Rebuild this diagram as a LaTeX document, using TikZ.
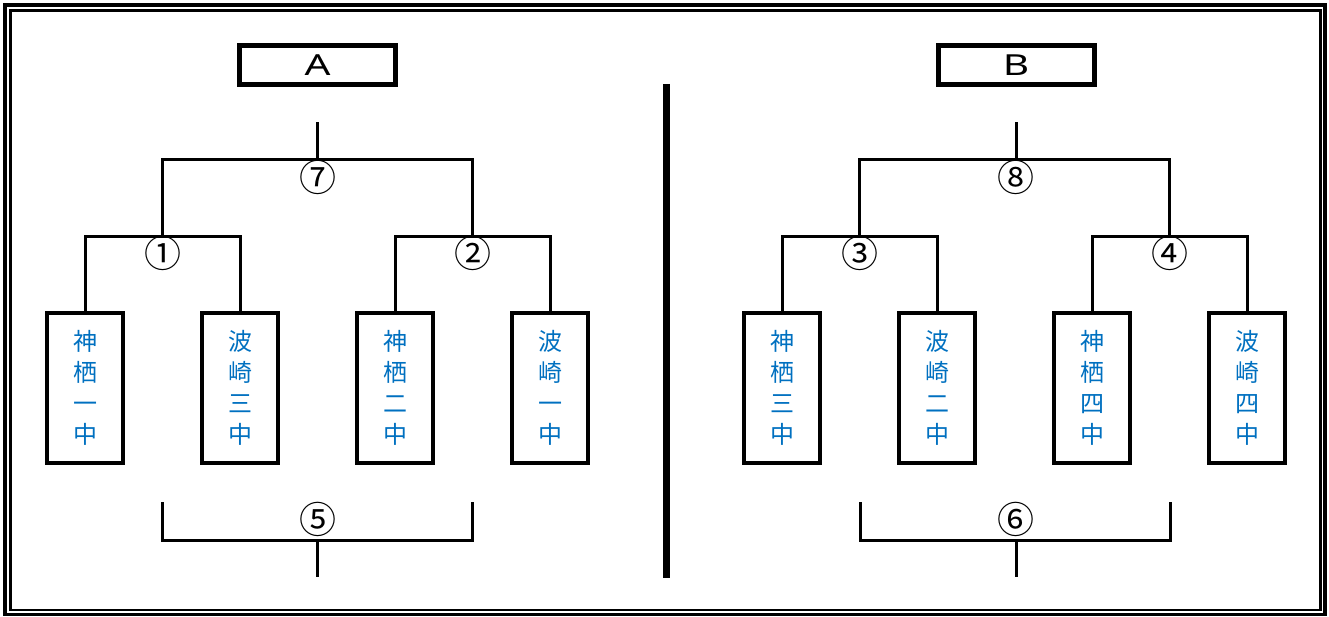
\documentclass[tikz,border=0pt]{standalone}
\usepackage{fontspec}
\usepackage{graphicx}
\usepackage{tikz}
\usepackage{xcolor}
\usetikzlibrary{
    calc,
    positioning
}
\newfontfamily\jpfont{Noto Sans CJK JP}
\newfontfamily\lblfont{Noto Sans}
\definecolor{teamblue}{RGB}{0,112,192}
\newcommand{\widelbl}[1]{\scalebox{1.4}[1]{#1}}
\tikzset{team/.style={draw=black, line width=3.5pt, minimum width=76pt, minimum height=150pt, inner sep=0pt, align=center, text=teamblue, font=\jpfont\fontsize{24}{31}\selectfont}}
\tikzset{blocklbl/.style={draw=black, line width=5pt, minimum width=156pt, minimum height=39pt, inner sep=0pt, font=\lblfont\fontsize{29}{29}\selectfont}}
\tikzset{matchno/.style={inner sep=0pt, font=\jpfont\fontsize{37}{37}\selectfont}}
\tikzset{bracket/.style={line width=3pt}}

\begin{document}
\begin{tikzpicture}[x=1pt, y=-1pt]
                        \useasboundingbox (0,0) rectangle (1329,617);
                        % double frame
                        \draw[line width=3.5pt] (5,5) rectangle (1325,614.5);
                        \draw[line width=2.5pt] (10.5,10.5) rectangle (1320.5,610);
                        % divider
                        \draw[line width=7pt] (666,84) -- (666,578);

                        % block A
                        \node[blocklbl] (lblA) at (317.5,65) {\widelbl{A}};
                        \node[team] (t1) at (85,388) {神\\栖\\一\\中};
                        \node[team] (t2) at (240,388) {波\\崎\\三\\中};
                        \node[team] (t3) at (395,388) {神\\栖\\二\\中};
                        \node[team] (t4) at (550,388) {波\\崎\\一\\中};
                        \coordinate (m1) at (162.5,237);
                        \coordinate (m2) at (472.5,237);
                        \coordinate (m7) at (317.5,160);
                        \coordinate (top7) at (317.5,122);
                        \coordinate (b5l) at (162.5,502);
                        \coordinate (b5r) at (472.5,502);
                        \coordinate (m5) at (317.5,540);
                        \coordinate (end5) at (317.5,577);
                        \node[matchno] (n1) at (163,253) {①};
                        \node[matchno] (n2) at (473,253) {②};
                        \node[matchno] (n7) at (318,177.5) {⑦};
                        \node[matchno] (n5) at (318,519.5) {⑤};

                        % block B
                        \node[blocklbl] (lblB) at (1016,65) {\widelbl{B}};
                        \node[team] (t5) at (782,388) {神\\栖\\三\\中};
                        \node[team] (t6) at (937,388) {波\\崎\\二\\中};
                        \node[team] (t7) at (1092,388) {神\\栖\\四\\中};
                        \node[team] (t8) at (1247,388) {波\\崎\\四\\中};
                        \coordinate (m3) at (859.5,237);
                        \coordinate (m4) at (1169.5,237);
                        \coordinate (m8) at (1016,160);
                        \coordinate (top8) at (1016,122);
                        \coordinate (b6l) at (860.5,502);
                        \coordinate (b6r) at (1170.5,502);
                        \coordinate (m6) at (1016,540);
                        \coordinate (end6) at (1016,577);
                        \node[matchno] (n3) at (860,253) {③};
                        \node[matchno] (n4) at (1170,253) {④};
                        \node[matchno] (n8) at (1016,177.5) {⑧};
                        \node[matchno] (n6) at (1016,519.5) {⑥};

                        \draw[bracket]
                        (t1.north) |- (m1) -| (t2.north)
                        (t3.north) |- (m2) -| (t4.north)
                        (m1) |- (m7) -| (m2)
                        (m7) -- (top7)
                        (b5l) |- (m5) -| (b5r)
                        (m5) -- (end5);

                        \draw[bracket]
                        (t5.north) |- (m3) -| (t6.north)
                        (t7.north) |- (m4) -| (t8.north)
                        (m3) |- (m8) -| (m4)
                        (m8) -- (top8)
                        (b6l) |- (m6) -| (b6r)
                        (m6) -- (end6);
                    \end{tikzpicture}
\end{document}
